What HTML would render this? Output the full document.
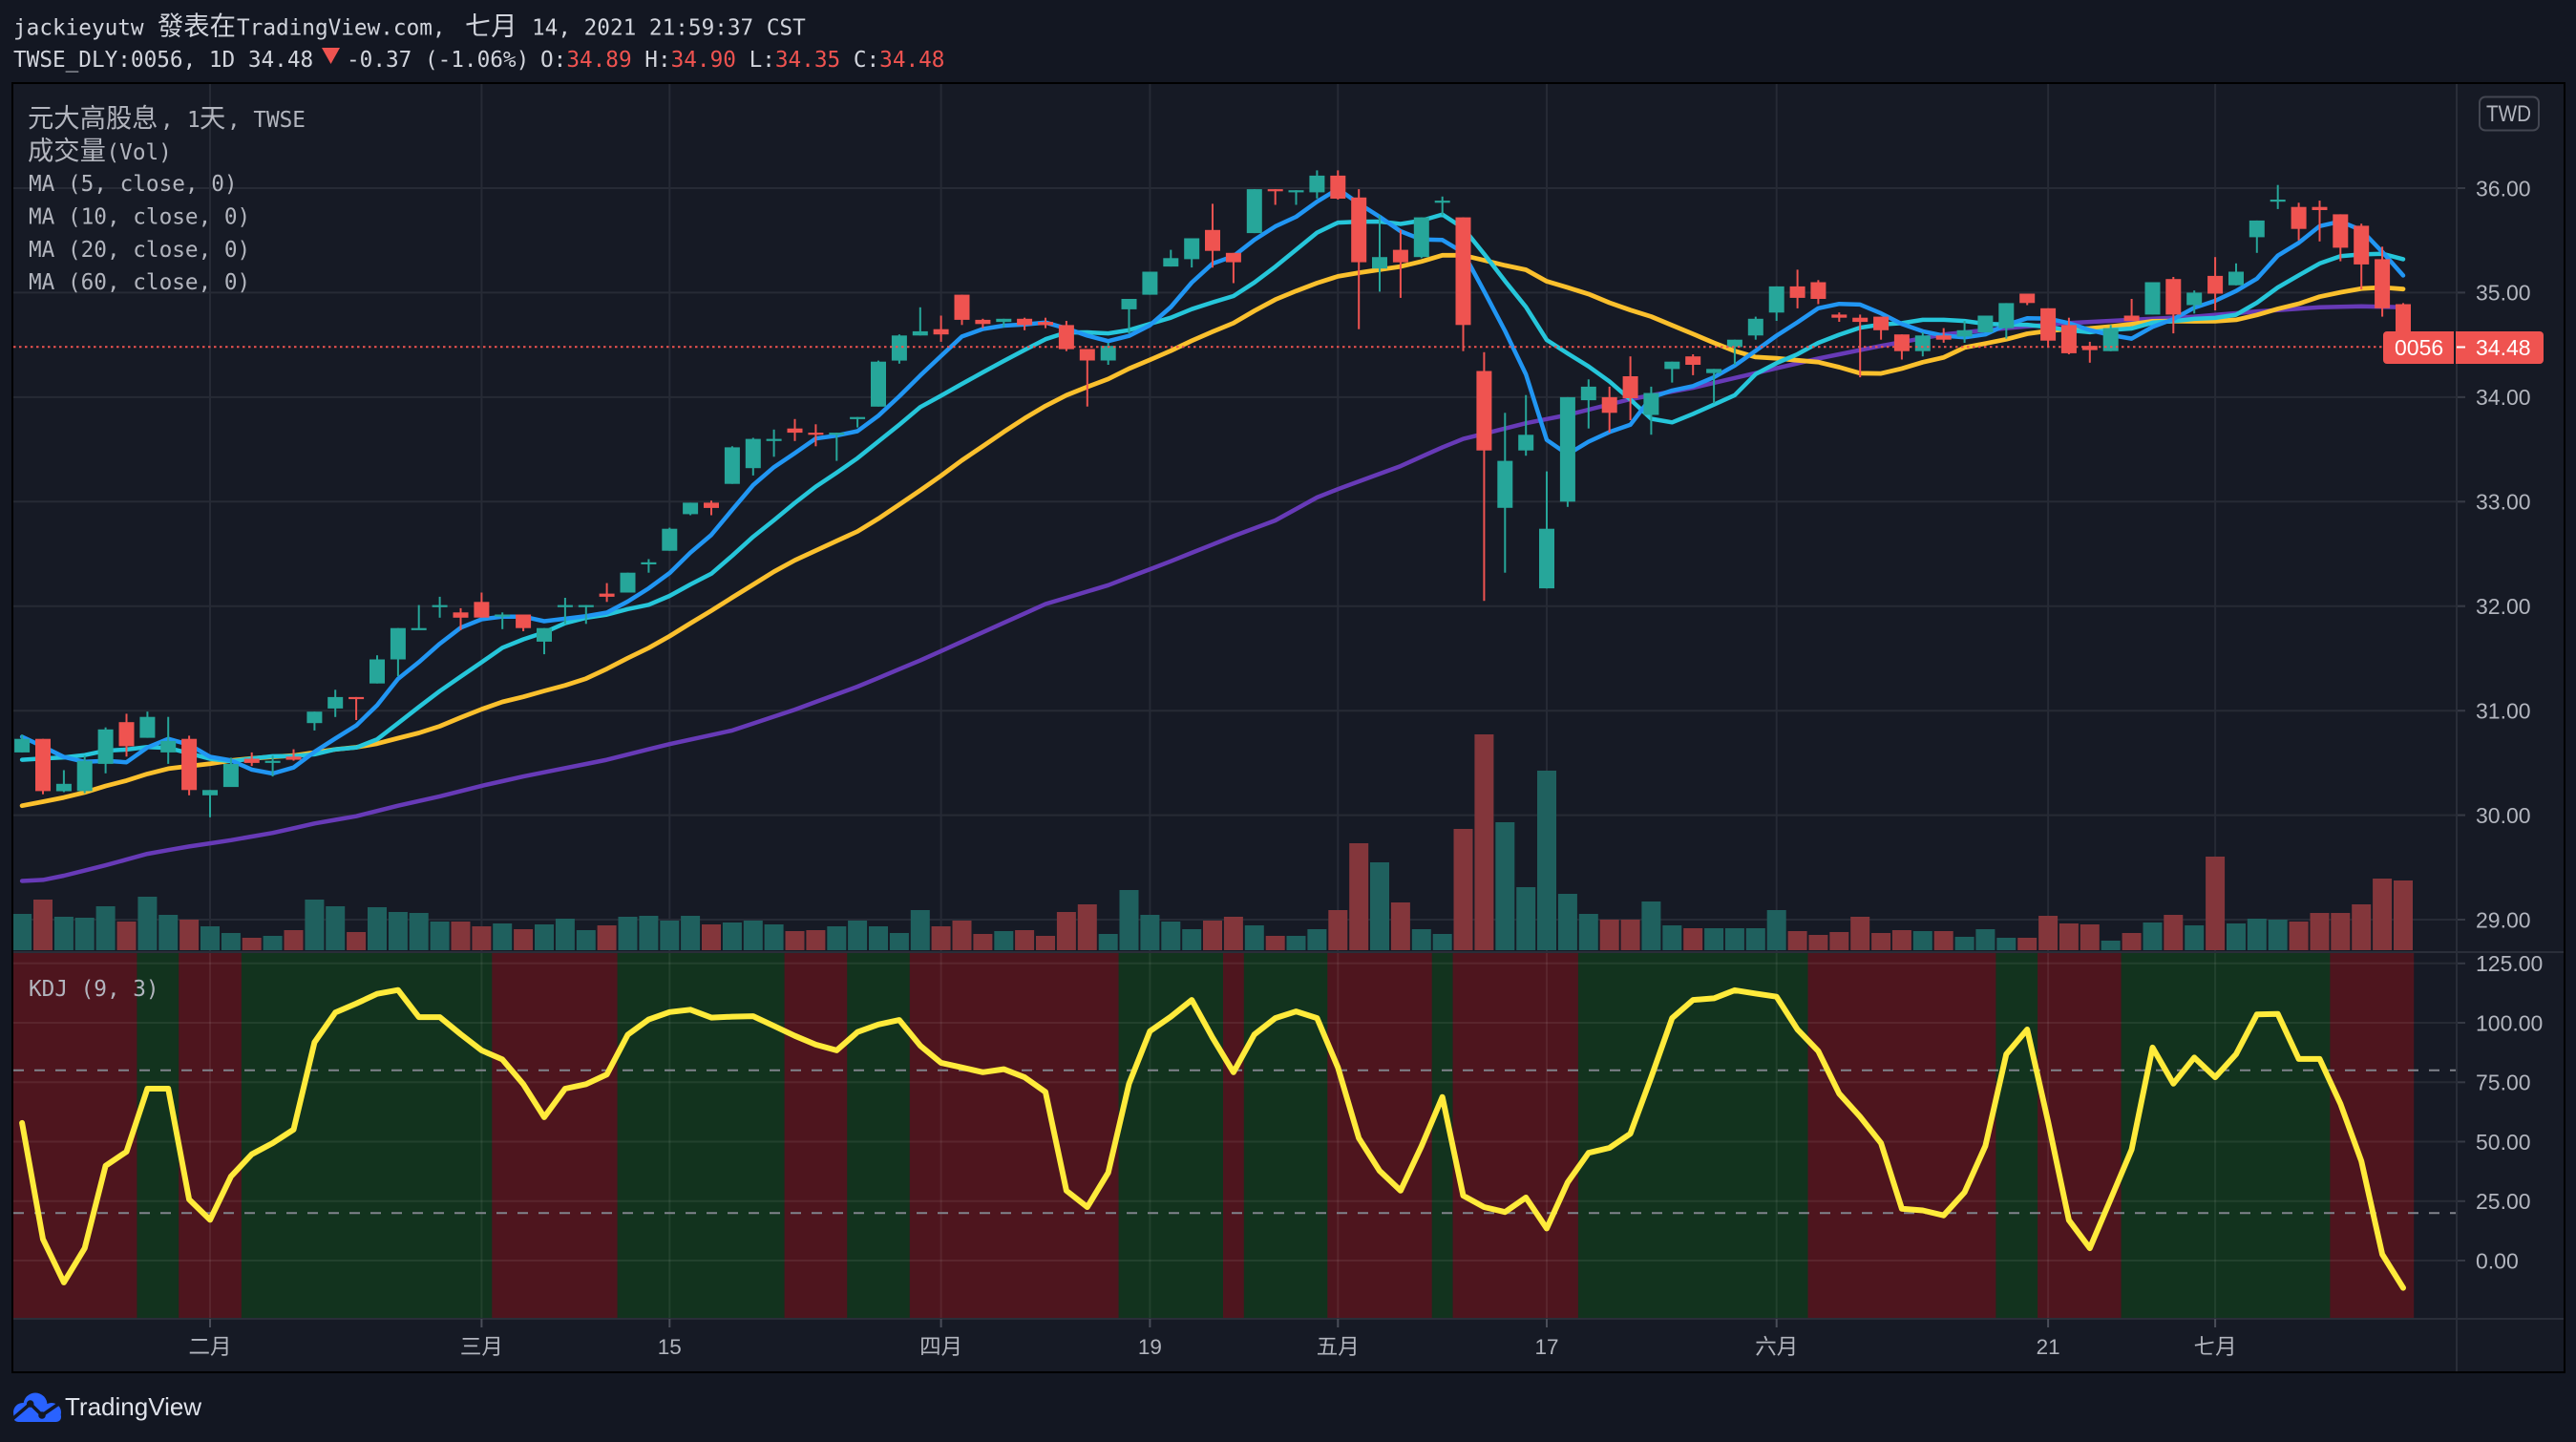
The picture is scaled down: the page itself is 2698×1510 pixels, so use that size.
<!DOCTYPE html>
<html><head><meta charset="utf-8">
<style>
html,body{margin:0;padding:0;background:#131722;width:2698px;height:1510px;overflow:hidden;}
svg{position:absolute;left:0;top:0;}
.mono{font-family:"DejaVu Sans Mono","Noto Sans CJK TC",monospace;font-size:22.7px;}
.cjk{font-family:"Noto Sans CJK TC","Liberation Sans",sans-serif;font-size:27.3px;}
.ax{font-family:"Liberation Sans","Noto Sans CJK TC",sans-serif;font-size:23px;fill:#b2b5be;}
.tx{font-family:"Liberation Sans","Noto Sans CJK TC",sans-serif;font-size:22.5px;fill:#b2b5be;}
</style></head>
<body>
<svg xmlns="http://www.w3.org/2000/svg" width="2698" height="1510" viewBox="0 0 2698 1510">
<defs>
<clipPath id="cm"><rect x="14" y="88" width="2559" height="908"/></clipPath>
<clipPath id="ck"><rect x="14" y="998" width="2559" height="382"/></clipPath>
</defs>
<rect width="2698" height="1510" fill="#131722"/>
<rect x="13" y="87" width="2673" height="1350" fill="#161a25" stroke="#000" stroke-width="2"/>
<g id="g"></g>
<line x1="14" x2="2685" y1="997" y2="997" stroke="#2a2e39" stroke-width="2"/>
<line x1="14" x2="2685" y1="1381" y2="1381" stroke="#2a2e39" stroke-width="2"/>
<line x1="2573" x2="2573" y1="88" y2="1436" stroke="#2a2e39" stroke-width="2"/>

<!-- header -->
<text class="mono" y="36.5" fill="#d1d4dc"><tspan x="14">jackieyutw</tspan><tspan x="165" class="cjk">發表在</tspan><tspan x="248">TradingView.com,</tspan><tspan x="487" class="cjk">七月</tspan><tspan x="557">14, 2021 21:59:37 CST</tspan></text>
<text class="mono" x="14" y="70" fill="#d1d4dc">TWSE_DLY:0056, 1D 34.48</text>
<polygon points="337,50 356,50 346.5,67" fill="#ef5350"/>
<text class="mono" x="363" y="70" fill="#d1d4dc">-0.37 (-1.06%)</text>
<text class="mono" x="566" y="70" fill="#d1d4dc">O:<tspan fill="#ef5350">34.89</tspan> H:<tspan fill="#ef5350">34.90</tspan> L:<tspan fill="#ef5350">34.35</tspan> C:<tspan fill="#ef5350">34.48</tspan></text>

<!-- legend -->
<text class="mono" y="133" fill="#b2b5be"><tspan x="29" class="cjk">元大高股息</tspan><tspan x="168">,</tspan><tspan x="196">1</tspan><tspan x="209" class="cjk">天</tspan><tspan x="238">, TWSE</tspan></text>
<text class="mono" y="167" fill="#b2b5be"><tspan x="29" class="cjk">成交量</tspan><tspan x="111.5">(Vol)</tspan></text>
<text class="mono" x="30" y="200" fill="#b2b5be">MA (5, close, 0)</text>
<text class="mono" x="30" y="234.5" fill="#b2b5be">MA (10, close, 0)</text>
<text class="mono" x="30" y="269" fill="#b2b5be">MA (20, close, 0)</text>
<text class="mono" x="30" y="303" fill="#b2b5be">MA (60, close, 0)</text>
<text class="mono" x="30" y="1043" fill="#b2b5be">KDJ (9, 3)</text>

<!-- TWD badge -->
<rect x="2597" y="101.5" width="62" height="35" rx="6" fill="none" stroke="#434651" stroke-width="2"/>
<text x="2604" y="127" font-family="'Liberation Sans',sans-serif" font-size="24" fill="#b2b5be" textLength="47" lengthAdjust="spacingAndGlyphs">TWD</text>

<!-- price axis -->
<text class="ax" x="2593" y="205.3">36.00</text>
<text class="ax" x="2593" y="314.7">35.00</text>
<text class="ax" x="2593" y="424.2">34.00</text>
<text class="ax" x="2593" y="533.6">33.00</text>
<text class="ax" x="2593" y="643">32.00</text>
<text class="ax" x="2593" y="752.5">31.00</text>
<text class="ax" x="2593" y="861.9">30.00</text>
<text class="ax" x="2593" y="971.3">29.00</text>
<text class="ax" x="2593" y="1017.1">125.00</text>
<text class="ax" x="2593" y="1079.3">100.00</text>
<text class="ax" x="2593" y="1141.6">75.00</text>
<text class="ax" x="2593" y="1203.8">50.00</text>
<text class="ax" x="2593" y="1266.1">25.00</text>
<text class="ax" x="2593" y="1328.3">0.00</text>

<!-- last price label -->
<rect x="2496" y="347" width="168" height="34" rx="4" fill="#ef5350"/>
<rect x="2570" y="347" width="2" height="34" fill="#161a25"/>
<line x1="2573" x2="2582" y1="363.5" y2="363.5" stroke="#ffffff" stroke-width="2"/>
<text x="2508" y="372" font-family="'Liberation Sans',sans-serif" font-size="23" fill="#ffffff">0056</text>
<text x="2593" y="372" font-family="'Liberation Sans',sans-serif" font-size="23" fill="#ffffff">34.48</text>

<!-- time axis -->
<g stroke="#4a4e59" stroke-width="2">
<line x1="220" x2="220" y1="1381" y2="1390"/>
<line x1="504.4" x2="504.4" y1="1381" y2="1390"/>
<line x1="701.3" x2="701.3" y1="1381" y2="1390"/>
<line x1="985.6" x2="985.6" y1="1381" y2="1390"/>
<line x1="1204.4" x2="1204.4" y1="1381" y2="1390"/>
<line x1="1401.3" x2="1401.3" y1="1381" y2="1390"/>
<line x1="1620" x2="1620" y1="1381" y2="1390"/>
<line x1="1860.7" x2="1860.7" y1="1381" y2="1390"/>
<line x1="2145.1" x2="2145.1" y1="1381" y2="1390"/>
<line x1="2320.1" x2="2320.1" y1="1381" y2="1390"/>
</g>
<g class="tx" text-anchor="middle">
<text x="220" y="1418">二月</text>
<text x="504.4" y="1418">三月</text>
<text x="701.3" y="1418">15</text>
<text x="985.6" y="1418">四月</text>
<text x="1204.4" y="1418">19</text>
<text x="1401.3" y="1418">五月</text>
<text x="1620" y="1418">17</text>
<text x="1860.7" y="1418">六月</text>
<text x="2145.1" y="1418">21</text>
<text x="2320.1" y="1418">七月</text>
</g>

<!-- TradingView logo -->
<g fill="#2962ff">
<circle cx="24" cy="1479" r="10"/>
<circle cx="37" cy="1471" r="12.5"/>
<circle cx="54" cy="1479" r="10"/>
<rect x="14" y="1478" width="50" height="11" rx="5"/>
</g>
<polyline points="13,1486 31.7,1470 44,1482 63,1469" fill="none" stroke="#131722" stroke-width="3.5" stroke-linejoin="round"/>
<circle cx="31.7" cy="1470" r="3.8" fill="#131722"/>
<circle cx="44" cy="1482" r="3.8" fill="#131722"/>
<text x="68" y="1482" font-family="'Liberation Sans',sans-serif" font-size="26" fill="#e0e3eb">TradingView</text>
</svg>

<script>
(function(){
var O=[30.60,30.73,30.23,30.23,30.49,30.89,30.74,30.60,30.73,30.19,30.27,30.54,30.51,30.56,30.88,31.02,31.13,31.26,31.49,31.78,32.00,31.94,32.04,31.91,31.92,31.66,32.00,32.00,32.12,32.13,32.40,32.53,32.88,32.99,33.17,33.32,33.58,33.70,33.66,33.64,33.79,33.91,34.35,34.59,34.65,34.98,34.74,34.72,34.75,34.72,34.69,34.46,34.35,34.84,34.98,35.25,35.32,35.60,35.38,35.57,35.99,35.96,35.96,36.12,35.91,35.23,35.41,35.34,35.86,35.72,34.25,32.94,33.49,32.17,33.00,33.97,34.00,34.20,33.83,34.27,34.39,34.23,34.48,34.59,34.81,35.06,35.10,34.79,34.76,34.77,34.60,34.44,34.59,34.58,34.62,34.66,34.99,34.85,34.69,34.49,34.44,34.78,34.79,35.13,34.88,35.16,35.07,35.53,35.87,35.82,35.82,35.75,35.64,35.32,34.89];
var H=[30.77,30.73,30.43,30.57,30.84,30.97,30.99,30.94,30.76,30.24,30.55,30.60,30.57,30.63,30.99,31.20,31.13,31.53,31.79,32.01,32.09,31.98,32.13,31.94,31.92,31.79,32.08,32.01,32.22,32.32,32.45,32.75,32.99,33.01,33.53,33.61,33.69,33.79,33.74,33.66,33.81,34.35,34.60,34.86,34.78,34.98,34.75,34.75,34.76,34.76,34.73,34.46,34.52,34.94,35.20,35.41,35.52,35.85,35.38,35.99,35.99,35.98,36.17,36.17,35.99,35.74,35.60,35.72,35.92,35.72,34.43,33.85,34.02,33.29,34.00,34.17,34.10,34.39,34.10,34.34,34.41,34.27,34.55,34.77,35.06,35.22,35.12,34.81,34.79,34.77,34.60,34.62,34.66,34.73,34.78,34.90,34.99,34.85,34.76,34.53,34.69,34.94,35.10,35.15,35.02,35.34,35.28,35.69,36.03,35.86,35.88,35.75,35.66,35.44,34.90];
var L=[30.60,30.20,30.22,30.21,30.40,30.56,30.74,30.49,30.19,29.98,30.27,30.47,30.37,30.52,30.81,30.94,30.91,31.26,31.33,31.78,31.89,31.77,31.89,31.78,31.76,31.54,31.83,31.83,32.04,32.13,32.32,32.53,32.87,32.87,33.17,33.25,33.43,33.58,33.53,33.39,33.71,33.91,34.32,34.59,34.53,34.69,34.66,34.67,34.64,34.66,34.44,33.91,34.31,34.61,34.98,35.25,35.24,35.24,35.09,35.57,35.84,35.84,35.90,35.89,34.65,35.01,34.95,35.33,35.74,34.44,32.05,32.32,33.44,32.17,32.95,33.70,33.66,33.78,33.64,34.14,34.21,33.94,34.31,34.55,34.73,34.85,34.89,34.72,34.19,34.55,34.36,34.39,34.52,34.52,34.62,34.56,34.88,34.48,34.41,34.33,34.44,34.73,34.79,34.61,34.80,34.83,35.07,35.38,35.80,35.50,35.49,35.30,35.03,34.77,34.35];
var C=[30.73,30.23,30.30,30.52,30.82,30.66,30.94,30.71,30.24,30.24,30.49,30.50,30.52,30.53,30.99,31.13,31.12,31.49,31.79,31.79,32.01,31.89,31.89,31.92,31.79,31.79,32.01,32.01,32.09,32.32,32.42,32.74,32.99,32.94,33.52,33.60,33.60,33.66,33.64,33.66,33.81,34.34,34.59,34.63,34.60,34.74,34.70,34.75,34.69,34.69,34.46,34.35,34.49,34.94,35.20,35.33,35.52,35.40,35.29,35.99,35.97,35.98,36.12,35.90,35.29,35.34,35.29,35.72,35.88,34.69,33.49,33.39,33.64,32.74,34.00,34.10,33.85,33.99,34.04,34.34,34.31,34.27,34.55,34.75,35.06,34.95,34.94,34.76,34.72,34.64,34.44,34.59,34.55,34.64,34.78,34.90,34.90,34.54,34.42,34.45,34.66,34.73,35.10,34.79,35.00,34.99,35.20,35.69,35.89,35.61,35.79,35.43,35.27,34.85,34.48];
var VT=[957,942,960,961,949,965,939,958,963,970,977,982,980,974,942,949,976,950,955,956,965,965,970,967,973,968,962,974,969,960,959,964,959,968,966,964,968,975,974,970,964,970,977,953,970,964,978,975,974,980,955,947,978,932,958,965,973,964,960,969,980,980,973,953,883,903,945,973,978,868,769,861,929,807,936,957,963,963,944,969,972,972,972,972,953,975,979,976,960,977,974,975,975,981,973,982,982,959,967,968,985,977,966,958,969,897,967,962,963,965,956,956,947,920,922];
var KV=[57.9,9.0,-9.2,5.2,39.9,45.8,72.3,72.3,25.7,17.1,35.4,44.7,49.4,55.1,91.8,104.3,108.1,112.2,113.8,102.4,102.4,95.2,88.4,84.6,74.2,60.3,72.3,74.2,78.3,95.0,101.4,104.5,105.5,102.2,102.6,102.8,98.7,94.5,90.8,88.4,96.1,99.3,101.2,90.4,83.2,81.2,79.2,80.5,77.1,70.9,29.4,22.5,37,74.4,96.5,102.6,109.6,93.7,79.2,95.1,102.0,104.8,102.0,81.2,51.5,37.7,29.4,48.1,68.8,27.3,22.5,20.4,26.5,13.5,32.9,45.3,47.4,53.4,77.1,102,109.6,110.3,113.7,112.3,111,97.2,88.1,70.2,60.5,49.4,21.8,21.1,19.0,28.7,48.2,86.8,97.2,58.4,17,5.2,25.9,46.7,89.6,74.4,85.4,77.1,86.8,103.5,103.7,84.8,84.8,65.9,41.8,2.6,-11.5];
var M60=[[0,29.37],[1,29.38],[2,29.42],[4,29.52],[6,29.63],[8,29.70],[10,29.76],[12,29.83],[14,29.92],[16,29.99],[18,30.09],[20,30.18],[22,30.28],[24,30.37],[26,30.45],[28,30.53],[30,30.63],[31,30.68],[34,30.81],[37,31.01],[40,31.23],[43,31.48],[46,31.75],[49,32.02],[52,32.20],[55,32.43],[58,32.67],[60,32.82],[62,33.04],[63,33.12],[66,33.34],[68,33.52],[69,33.60],[72,33.75],[74,33.83],[77,33.98],[80,34.09],[83,34.23],[86,34.37],[89,34.49],[92,34.60],[95,34.66],[98,34.71],[101,34.74],[104,34.77],[107,34.82],[110,34.86],[112,34.87],[114,34.86]];
var pre=[29.45,29.5,29.55,29.6,29.62,29.66,29.7,29.75,29.8,29.87,30.1,30.2,30.3,30.4,30.55,30.7,30.8,30.75,30.77];
function X(i){return 23.1+21.876*i;}
function Y(p){return 197+(36-p)*109.43;}
function KY(v){return 1320-v*2.4896;}
function f(v){return v.toFixed(1);}
var N=C.length, s='', i, k;
var grid=[9,22,31,44,54,63,73,84,97,105];
// main pane grid
[36,35,34,33,32,31,30,29].forEach(function(p){var y=f(Y(p));s+='<line x1="14" x2="2582" y1="'+y+'" y2="'+y+'" stroke="#262a35" stroke-width="2"/>';});
grid.forEach(function(b){var x=f(X(b));s+='<line x1="'+x+'" x2="'+x+'" y1="88" y2="996" stroke="#262a35" stroke-width="2"/>';});
// main pane content
var m='<g clip-path="url(#cm)">';
for(i=0;i<N;i++){var up=C[i]>=O[i];m+='<rect x="'+f(X(i)-10)+'" y="'+VT[i]+'" width="20" height="'+(995-VT[i])+'" fill="'+(up?'#1f605e':'#83363b')+'"/>';}
var all=pre.concat(C);
function ma(n){var pts=[];for(var i=0;i<N;i++){var t=0;for(var k=0;k<n;k++)t+=all[i+19-k];pts.push(f(X(i))+','+f(Y(t/n)));}return pts.join(' ');}
var p60=[],j=0;
for(i=0;i<N;i++){while(j<M60.length-2&&M60[j+1][0]<i)j++;var a=M60[j],b=M60[j+1];var v=a[1]+(b[1]-a[1])*(i-a[0])/(b[0]-a[0]);p60.push(f(X(i))+','+f(Y(v)));}
function pl(pts,col,w){return '<polyline points="'+pts+'" fill="none" stroke="'+col+'" stroke-width="'+w+'" stroke-linejoin="round" stroke-linecap="round"/>';}
m+=pl(p60.join(' '),'#673ab7',4.5);
m+=pl(ma(20),'#fbc02d',4.8);
m+=pl(ma(10),'#26c6da',4.5);
m+=pl(ma(5),'#2196f3',4.5);
for(i=0;i<N;i++){
 var up2=C[i]>=O[i];var col=up2?'#26a69a':'#ef5350';var x=X(i);
 var yt=Y(Math.max(O[i],C[i])),yb=Y(Math.min(O[i],C[i]));var h=Math.max(2.2,yb-yt);
 var yh=Y(H[i]),yl=Y(L[i]);
 m+='<rect x="'+f(x-1)+'" y="'+f(yh)+'" width="2" height="'+f(Math.max(2,yl-yh))+'" fill="'+col+'"/>';
 m+='<rect x="'+f(x-8)+'" y="'+f(yt)+'" width="16" height="'+f(h)+'" fill="'+col+'"/>';
}
m+='<line x1="14" x2="2496" y1="363.3" y2="363.3" stroke="#ef5350" stroke-width="2" stroke-dasharray="2.5 3.5"/>';
m+='</g>';
s+=m;
// KDJ pane
var kd='<g clip-path="url(#ck)">';
var B=[[0,'r'],[6,'g'],[8,'r'],[11,'g'],[23,'r'],[29,'g'],[37,'r'],[40,'g'],[43,'r'],[53,'g'],[58,'r'],[59,'g'],[63,'r'],[68,'g'],[69,'r'],[75,'g'],[86,'r'],[95,'g'],[97,'r'],[101,'g'],[111,'r'],[115,'']];
for(k=0;k<B.length-1;k++){var x1=Math.max(14,X(B[k][0])-10.938),x2=X(B[k+1][0])-10.938;kd+='<rect x="'+f(x1)+'" y="998" width="'+f(x2-x1+0.3)+'" height="382" fill="'+(B[k][1]=='r'?'#4e151e':'#12331e')+'"/>';}
[125,100,75,50,25,0].forEach(function(v){var y=f(KY(v));kd+='<line x1="14" x2="2573" y1="'+y+'" y2="'+y+'" stroke="rgba(255,255,255,0.07)" stroke-width="2"/>';});
grid.forEach(function(b){var x=f(X(b));kd+='<line x1="'+x+'" x2="'+x+'" y1="998" y2="1380" stroke="rgba(255,255,255,0.07)" stroke-width="2"/>';});
[80,20].forEach(function(v){var y=f(KY(v));kd+='<line x1="14" x2="2573" y1="'+y+'" y2="'+y+'" stroke="#80838c" stroke-width="2" stroke-dasharray="11 11"/>';});
var kp=[];for(i=0;i<N;i++)kp.push(f(X(i))+','+f(KY(KV[i])));
kd+=pl(kp.join(' '),'#ffeb3b',6);
kd+='</g>';
s+=kd;
// axis tick marks for price/kdj
[36,35,34,33,32,31,30,29].forEach(function(p){var y=f(Y(p));s+='<line x1="2573" x2="2582" y1="'+y+'" y2="'+y+'" stroke="#363a45" stroke-width="2"/>';});
[125,100,75,50,25,0].forEach(function(v){var y=f(KY(v));s+='<line x1="2573" x2="2582" y1="'+y+'" y2="'+y+'" stroke="#363a45" stroke-width="2"/>';});
document.getElementById('g').innerHTML=s;
})();
</script>
</body></html>
